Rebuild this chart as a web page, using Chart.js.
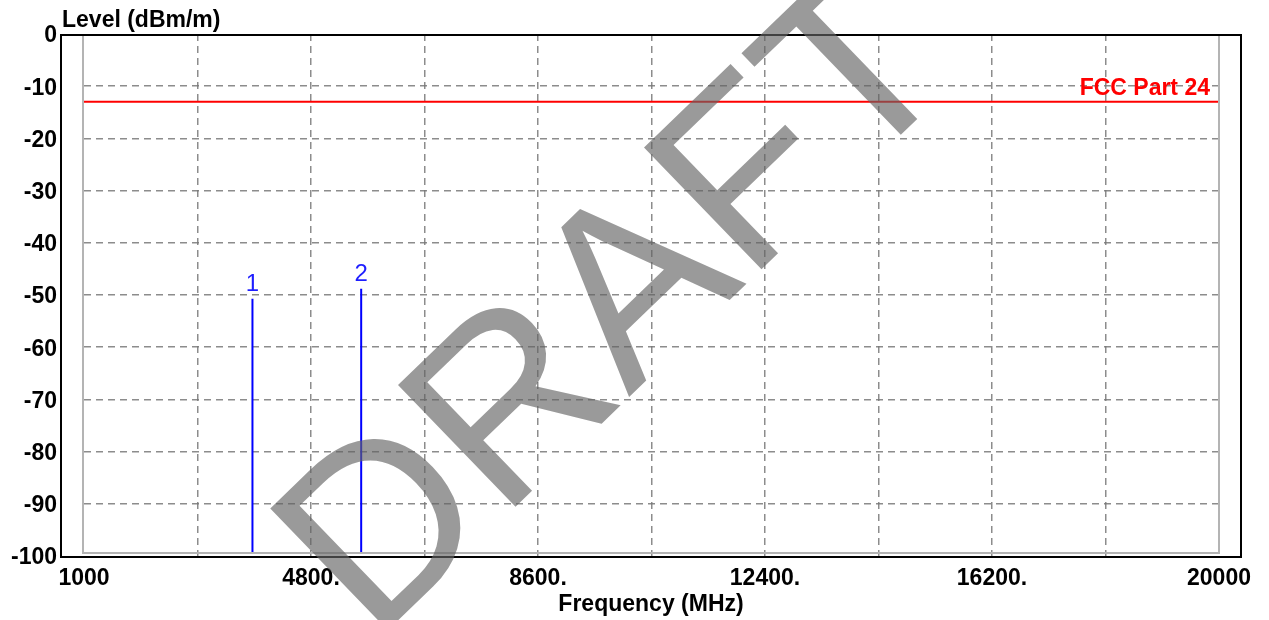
<!DOCTYPE html>
<html>
<head>
<meta charset="utf-8">
<script src="https://cdn.jsdelivr.net/npm/chart.js@4.4.1/dist/chart.umd.min.js"></script>
<style>
  html, body { margin: 0; padding: 0; background: #fff; }
  canvas { display: block; }
</style>
</head>
<body>
<canvas id="chart" width="1269" height="620"></canvas>
<script>
// axis ticks
const xTicks = [1000, 2900, 4800, 6700, 8600, 10500, 12400, 14300, 16200, 18100, 20000];
const xTickLabels = ['1000', '', '4800.', '', '8600.', '', '12400.', '', '16200.', '', '20000'];
const yTicks = [0, -10, -20, -30, -40, -50, -60, -70, -80, -90, -100];

// measured peaks
const markerNames = ['1', '2'];
const markerFreq = [3820, 5640];
const markerLevel = [-50.7, -48.8];

// limit line
const limitName = 'FCC Part 24';
const limitFreq = [1000, 20000];
const limitLevel = [-13, -13];

const FONT = "'Liberation Sans', Arial, sans-serif";
const gridGray = 'rgba(120,120,120,0.85)';

const datasets = [{
    label: limitName,
    data: limitFreq.map((f, i) => ({ x: f, y: limitLevel[i] })),
    borderColor: 'rgb(255,0,0)',
    borderWidth: 2,
    pointRadius: 0
}];
markerFreq.forEach((f, i) => {
    datasets.push({
        label: markerNames[i],
        data: [{ x: f, y: -100 }, { x: f, y: markerLevel[i] }],
        borderColor: 'rgb(0,0,255)',
        borderWidth: 2,
        pointRadius: 0,
        clip: { left: 5, top: 5, right: 5, bottom: -3 }
    });
});

const decorations = {
    id: 'decorations',
    afterDraw(chart) {
        const ctx = chart.ctx;
        const ca = chart.chartArea;
        const xs = chart.scales.x, ys = chart.scales.y;
        ctx.save();

        // inner grey frame
        ctx.strokeStyle = '#b4b4b4';
        ctx.lineWidth = 2;
        ctx.strokeRect(ca.left - 1, ca.top + 1, ca.right - ca.left + 1, ca.bottom - ca.top - 4);
        // outer black frame
        ctx.strokeStyle = '#000';
        ctx.lineWidth = 2;
        ctx.strokeRect(ca.left - 23, ca.top + 1, ca.right - ca.left + 45, ca.bottom - ca.top);

        // titles
        ctx.fillStyle = '#000';
        ctx.font = 'bold 23px ' + FONT;
        ctx.textAlign = 'left';
        ctx.textBaseline = 'alphabetic';
        ctx.fillText('Level (dBm/m)', 62, 27);
        ctx.textAlign = 'center';
        ctx.fillText('Frequency (MHz)', (ca.left - 23 + ca.right + 22) / 2, 611);

        // limit label
        ctx.fillStyle = 'rgb(255,0,0)';
        ctx.textAlign = 'right';
        ctx.fillText(limitName, ca.right - 9, ys.getPixelForValue(limitLevel[1]) - 7);

        // marker numbers
        ctx.fillStyle = 'rgb(30,30,255)';
        ctx.font = '24px ' + FONT;
        ctx.textAlign = 'center';
        markerFreq.forEach((f, i) => {
            ctx.fillText(markerNames[i], xs.getPixelForValue(f), ys.getPixelForValue(markerLevel[i]) - 8);
        });

        // watermark
        ctx.translate(607, 296);
        ctx.rotate(-44 * Math.PI / 180);
        ctx.font = '246px ' + FONT;
        ctx.fillStyle = 'rgba(100,100,100,0.65)';
        ctx.textAlign = 'center';
        ctx.textBaseline = 'alphabetic';
        ctx.fillText('DRAFT', 0, 246 * 0.358);
        ctx.restore();
    }
};

new Chart(document.getElementById('chart'), {
    type: 'line',
    data: { datasets: datasets },
    options: {
        responsive: false,
        animation: false,
        layout: { padding: { top: 34, right: 50, left: 0, bottom: 0 } },
        plugins: { legend: { display: false }, tooltip: { enabled: false } },
        scales: {
            x: {
                type: 'linear',
                min: 1000,
                max: 20000,
                afterBuildTicks: s => { s.ticks = xTicks.map(v => ({ value: v })); },
                afterFit: s => { s.height = 64; s.paddingLeft = 0; s.paddingRight = 0; },
                grid: {
                    color: c => (c.index === 0 || c.index === xTicks.length - 1) ? 'rgba(0,0,0,0)' : gridGray,
                    lineWidth: 1.5,
                    drawTicks: false
                },
                border: { display: false, dash: [7, 5] },
                ticks: {
                    autoSkip: false,
                    maxRotation: 0,
                    padding: 9,
                    color: '#000',
                    font: { family: FONT, size: 23, weight: 'bold' },
                    callback: (v, i) => xTickLabels[i]
                }
            },
            y: {
                type: 'linear',
                min: -100,
                max: 0,
                afterBuildTicks: s => { s.ticks = yTicks.map(v => ({ value: v })); },
                afterFit: s => { s.width = 84; s.paddingTop = 0; s.paddingBottom = 0; },
                grid: {
                    color: c => (c.index === 0 || c.index === yTicks.length - 1) ? 'rgba(0,0,0,0)' : gridGray,
                    lineWidth: 1.5,
                    drawTicks: false
                },
                border: { display: false, dash: [7, 5] },
                ticks: {
                    padding: 27,
                    labelOffset: 2,
                    color: '#000',
                    font: { family: FONT, size: 23, weight: 'bold' },
                    callback: v => String(v)
                }
            }
        }
    },
    plugins: [decorations]
});
</script>
</body>
</html>
